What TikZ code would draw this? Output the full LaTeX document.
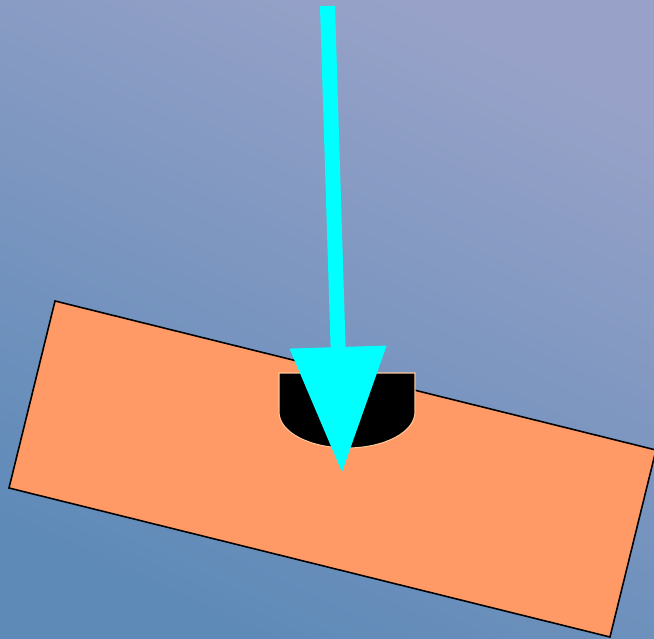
\documentclass[tikz,border=0pt]{standalone}
\usepackage{tikz}
\usetikzlibrary{arrows.meta,calc,positioning}
\definecolor{skytop}{HTML}{98A2C8}
\definecolor{skybottom}{HTML}{5E8AB8}
\definecolor{plateorange}{HTML}{FF9966}
\definecolor{notchedge}{HTML}{FFC896}
\definecolor{beamcyan}{HTML}{00FFFF}

\begin{document}
\begin{tikzpicture}[x=0.02cm,y=-0.02cm]
  \tikzset{plate/.style={fill=plateorange, draw=black, line width=0.9pt, line join=miter}, notch/.style={fill=black, draw=notchedge, line width=0.6pt}, beam/.style={draw=beamcyan, line width=0.3cm, -{Triangle[length=2.52cm,width=1.86cm]}}}
  \path[use as bounding box] (0,0) rectangle (654,639);
  \clip (0,0) rectangle (654,639);
  \shade[top color=skytop, bottom color=skybottom, shading angle=-25] (0,0) rectangle (654,639);
  % tilted plate
  \coordinate (tl) at (55,301);
  \coordinate (tr) at (656,450);
  \coordinate (br) at (610,637);
  \coordinate (bl) at (9,488);
  \draw[plate] (tl) -- (tr) -- (br) -- (bl) -- cycle;
  % notch
  \coordinate (nl) at (279,373);
  \coordinate (nr) at (415,373);
  \draw[notch] (nl) -- (279,412) .. controls (279,432) and (309.4,448) .. (347,448) .. controls (384.6,448) and (415,432) .. (415,412) -- (nr) -- cycle;
  % incoming ray
  \coordinate (src) at (327.5,6);
  \coordinate (hit) at (342,473);
  \draw[beam] (src) -- (hit);
\end{tikzpicture}
\end{document}
